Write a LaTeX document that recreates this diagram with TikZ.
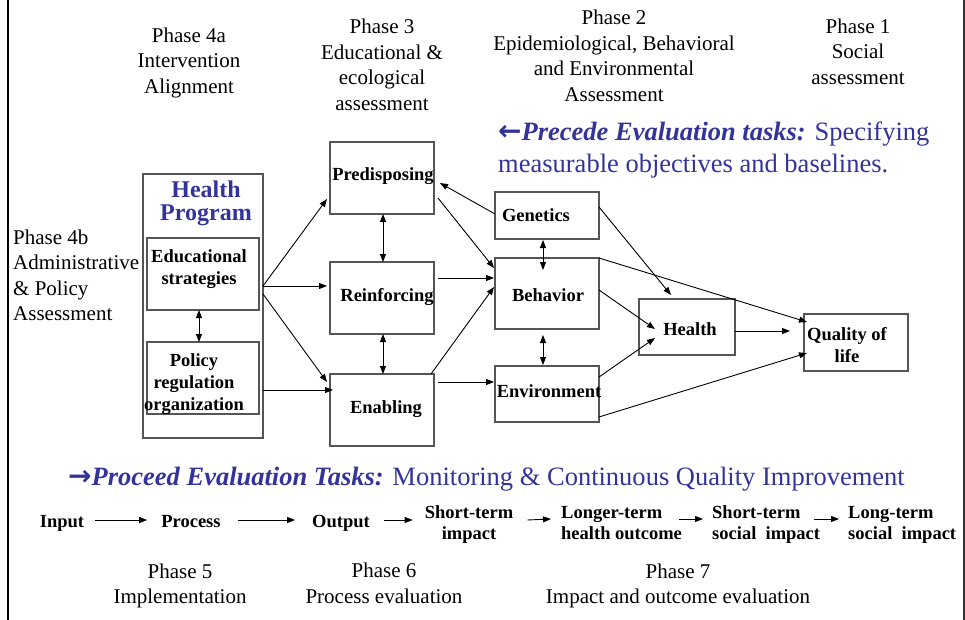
\documentclass[tikz,border=0pt]{standalone}
\usepackage{fontspec}
\setmainfont{Liberation Serif}
\newfontfamily\arrowfont{DejaVu Sans}
\usetikzlibrary{arrows.meta,calc}
\definecolor{pblue}{RGB}{51,51,153}
\definecolor{boxgray}{RGB}{85,85,85}
\newcommand{\bigarr}[1]{{\arrowfont\bfseries\upshape\fontsize{28}{32}\selectfont #1}}
\tikzset{
  box/.style={draw=boxgray,line width=1.3pt,inner sep=0pt,outer sep=0pt,rectangle},
  arr/.style={-{Triangle[length=8pt,width=6pt]},line width=0.9pt},
  darr/.style={{Triangle[length=8pt,width=6pt]}-{Triangle[length=8pt,width=6pt]},line width=0.9pt},
  phase/.style={font=\fontsize{21}{25.5}\selectfont,align=center,inner sep=0pt},
  lbl/.style={font=\bfseries\fontsize{18.5}{22}\selectfont,align=center,inner sep=0pt},
  rowlbl/.style={font=\bfseries\fontsize{18.5}{21}\selectfont,inner sep=0pt},
  bluetxt/.style={text=pblue,inner sep=0pt,font=\fontsize{26.5}{32}\selectfont}
}
\begin{document}
\begin{tikzpicture}[x=1pt,y=-1pt]
\useasboundingbox (0,0) rectangle (965,620);
% frame lines
\draw[line width=2.5pt] (8,0) -- (8,620);
\draw[line width=2pt,draw=black!80] (963.5,0) -- (963.5,620);

% phase headings
\node[phase] (p4a) at (189,62.5) {Phase 4a\\Intervention\\Alignment};
\node[phase] (p3) at (382,65) {Phase 3\\Educational \&\\ecological\\assessment};
\node[phase] (p2) at (614,56) {Phase 2\\Epidemiological, Behavioral\\and Environmental\\Assessment};
\node[phase] (p1) at (858,51.4) {Phase 1\\Social\\assessment};
\node[phase,align=left,anchor=west] (p4b) at (13,275.4) {Phase 4b\\Administrative\\\& Policy\\Assessment};

% precede text
\node[bluetxt,anchor=west,align=left] (prec) at (498,150)
  {\bigarr{←}{\bfseries\itshape Precede Evaluation tasks:} Specifying\\measurable objectives and baselines.};

% boxes
\node[box,minimum width=120pt,minimum height=264pt] (hp) at (203,306) {};
\node[box,minimum width=112pt,minimum height=72pt] (edu) at (203,274) {};
\node[box,minimum width=112pt,minimum height=72pt] (pol) at (203,378) {};
\node[box,minimum width=104pt,minimum height=72pt] (pre) at (382,178) {};
\node[box,minimum width=104pt,minimum height=72pt] (rei) at (382,298) {};
\node[box,minimum width=104pt,minimum height=72pt] (ena) at (382,410) {};
\node[box,minimum width=104pt,minimum height=47pt] (gen) at (547,215.5) {};
\node[box,minimum width=104pt,minimum height=71pt] (beh) at (547,293.5) {};
\node[box,minimum width=104pt,minimum height=56pt] (env) at (547,394) {};
\node[box,minimum width=96pt,minimum height=56pt] (hea) at (687,327) {};
\node[box,minimum width=104pt,minimum height=57pt] (qol) at (856,342.5) {};

% box texts
\node[lbl,text=pblue,font=\bfseries\fontsize{24}{23}\selectfont] (hpt) at (206,203) {Health\\Program};
\node[lbl] (edut) at (199,269) {Educational\\strategies};
\node[lbl] (polt) at (194,384) {Policy\\regulation\\organization};
\node[lbl,anchor=base] (pret) at (383,181) {Predisposing};
\node[lbl,anchor=base] (reit) at (387,301) {Reinforcing};
\node[lbl,anchor=base] (enat) at (386,413) {Enabling};
\node[lbl,anchor=base] (gent) at (536,222) {Genetics};
\node[lbl,anchor=base] (beht) at (548,301) {Behavior};
\node[lbl,anchor=base] (envt) at (549,397) {Environment};
\node[lbl,anchor=base] (heat) at (690,335) {Health};
\node[lbl] (qolt) at (847,345) {Quality of\\life};

% connectors
\draw[arr] ($(hp.east)+(0,-20)$) -- ($(pre.west)+(-3,21)$);
\draw[arr] ($(hp.east)+(0,-20)$) -- ($(rei.west)+(-3,-12)$);
\draw[arr] ($(hp.east)+(0,-12)$) -- ($(ena.west)+(-3,-28)$);
\draw[arr] ($(hp.east)+(0,84)$) -- ($(ena.west)+(3,-20)$);
\draw[darr] ($(edu.south)+(-4,0)$) -- ($(pol.north)+(-4,0)$);
\draw[darr] ($(pre.south)+(1,0)$) -- ($(rei.north)+(1,0)$);
\draw[darr] ($(rei.south)+(1,0)$) -- ($(ena.north)+(1,0)$);
\draw[arr] ($(gen.west)+(0,-1.5)$) -- ($(pre.east)+(6,5)$);
\draw[arr] ($(pre.east)+(4,20)$) -- ($(beh.west)+(-1,-25.5)$);
\draw[arr] ($(rei.east)+(4,-20)$) -- ($(beh.west)+(-1,-15.5)$);
\draw[arr] ($(ena.north east)+(-3,0)$) -- ($(beh.west)+(-1,-6.5)$);
\draw[arr] ($(ena.east)+(4,-28)$) -- ($(env.west)+(-1,-12)$);
\draw[darr] ($(gen.south)+(-4,1)$) -- ($(beh.north)+(-4,12)$);
\draw[darr] ($(beh.south)+(-4,6)$) -- ($(env.north)+(-4,-1)$);
\draw[arr] ($(gen.east)+(0,-8.5)$) -- ($(hea.north)+(-16,-4)$);
\draw[arr] ($(beh.east)+(0,-3.5)$) -- ($(hea.west)+(16,2)$);
\draw[arr] ($(env.east)+(0,-17)$) -- ($(hea.west)+(16,11)$);
\draw[arr] (beh.north east) -- ($(qol.west)+(3,-20.5)$);
\draw[arr] ($(env.east)+(0,23)$) -- ($(qol.west)+(3,10.5)$);
\draw[arr] ($(hea.east)+(0,4)$) -- ($(qol.west)+(-14,-11.5)$);

% proceed text
\node[bluetxt,anchor=base west] (proc0) at (68,485)
  {\bigarr{→}{\bfseries\itshape Proceed Evaluation Tasks:} Monitoring \& Continuous Quality Improvement};

% bottom row
\node[rowlbl,anchor=base] (in) at (62,527) {Input};
\node[rowlbl,anchor=base] (proc) at (191,527) {Process};
\node[rowlbl,anchor=base] (out) at (341,527) {Output};
\node[rowlbl,align=center] (sti) at (469,525) {Short-term\\impact};
\node[rowlbl,align=left,anchor=west] (lth) at (561,523) {Longer-term\\health outcome};
\node[rowlbl,align=left,anchor=west] (sts) at (712,525) {Short-term\\social\ \ impact};
\node[rowlbl,align=left,anchor=west] (lts) at (848,525) {Long-term\\social\ \ impact};

\draw[arr] ($(in.base east)+(11,-7)$) -- ($(proc.base west)+(-14,-7)$);
\draw[arr] ($(proc.base east)+(17,-7)$) -- ($(out.base west)+(-17,-7)$);
\draw[arr] ($(out.base east)+(14,-7)$) -- ($(sti.west)+(-12,-5)$);
\draw[arr] ($(sti.east)+(14,-5)$) -- ($(lth.west)+(-10,-4)$);
\draw[arr] ($(lth.east)+(-3,-4)$) -- ($(sts.west)+(-9,-6)$);
\draw[arr] ($(sts.east)+(-6,-6)$) -- ($(lts.west)+(-9,-6)$);

% phase footers
\node[phase] (p5) at (180,585.7) {Phase 5\\Implementation};
\node[phase] (p6) at (384,583.4) {Phase 6\\Process evaluation};
\node[phase] (p7) at (678,585.7) {Phase 7\\Impact and outcome evaluation};
\end{tikzpicture}
\end{document}
